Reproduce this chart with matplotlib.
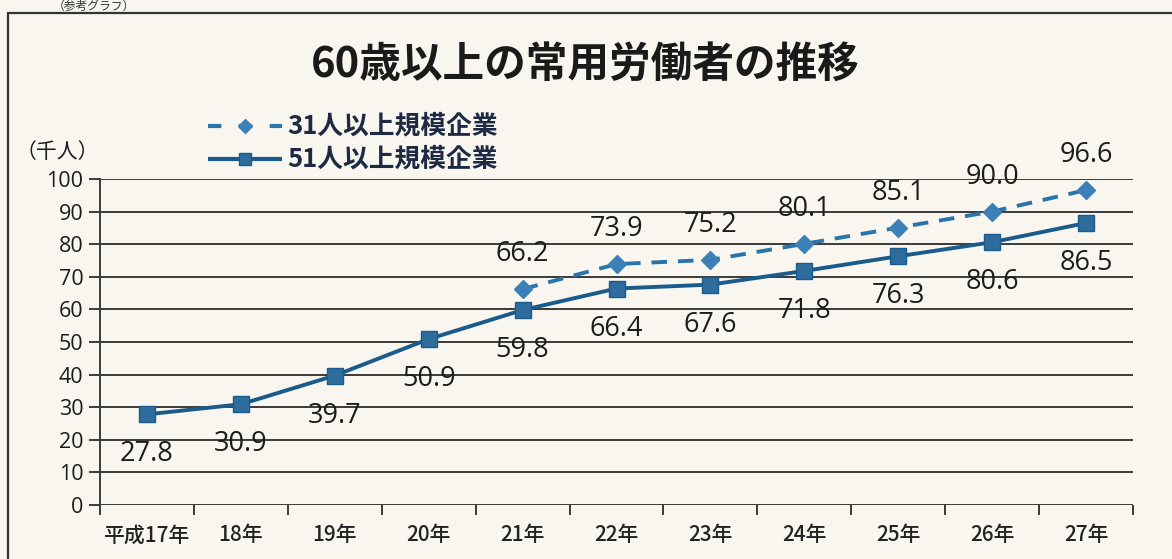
import matplotlib
matplotlib.use("Agg")
import matplotlib.pyplot as plt
from matplotlib.patches import Rectangle
from matplotlib.ticker import FixedLocator

plt.rcParams['font.family'] = ['Noto Sans CJK JP', 'DejaVu Sans']

categories = ['平成17年', '18年', '19年', '20年', '21年', '22年', '23年', '24年', '25年', '26年', '27年']
series51 = [27.8, 30.9, 39.7, 50.9, 59.8, 66.4, 67.6, 71.8, 76.3, 80.6, 86.5]
series31_idx = [4, 5, 6, 7, 8, 9, 10]
series31 = [66.2, 73.9, 75.2, 80.1, 85.1, 90.0, 96.6]
yticks = [0, 10, 20, 30, 40, 50, 60, 70, 80, 90, 100]

title = '60歳以上の常用労働者の推移'
legend31 = '31人以上規模企業'
legend51 = '51人以上規模企業'
unit = '（千人）'
note = '（参考グラフ）'

bg = '#f8f6ef'
fig = plt.figure(figsize=(11.72, 5.59), dpi=100, facecolor=bg)
W, H = 1172, 559

def ax_rect(x0, y0, x1, y1):
    return [x0 / W, 1 - y1 / H, (x1 - x0) / W, (y1 - y0) / H]

ax = fig.add_axes(ax_rect(100, 179, 1133, 505))
ax.set_facecolor(bg)

x = list(range(len(categories)))
ax.set_xlim(-0.5, len(categories) - 0.5)
ax.set_ylim(0, 100)

# grid
for yv in yticks:
    ax.axhline(yv, color='#3a3a3a', lw=1.4, zorder=1)

ax.plot(x, series51, color='#1b5b8c', lw=2.8, marker='s', markersize=11,
        markerfacecolor='#2d6c9c', markeredgecolor='#1b5b8c', zorder=3)
ax.plot(series31_idx, series31, color='#2a74aa', lw=2.8, ls=(0, (4, 2.8)),
        marker='D', markersize=9, markerfacecolor='#3b80b6',
        markeredgecolor='#3b80b6', zorder=3)

numfont = dict(family=['Open Sans', 'DejaVu Sans'], fontsize=19.5, color='#1c1c1c')
for xi, v in zip(x, series51):
    ax.annotate(f'{v:.1f}', (xi, v), xytext=(0, -40), textcoords='offset pixels',
                ha='center', va='center', **numfont)
for xi, v in zip(series31_idx, series31):
    ax.annotate(f'{v:.1f}', (xi, v), xytext=(0, 35), textcoords='offset pixels',
                ha='center', va='center', annotation_clip=False, **numfont)

for s in ['top', 'right', 'bottom']:
    ax.spines[s].set_visible(False)
ax.spines['left'].set_color('#3a3a3a')
ax.spines['left'].set_linewidth(1.4)

ax.set_yticks(yticks)
ax.set_yticklabels([str(v) for v in yticks], fontsize=15.5,
                   family=['Open Sans', 'DejaVu Sans'], color='#1c1c1c')
ax.tick_params(axis='y', length=8, width=1.4, color='#3a3a3a', pad=4)

ax.set_xticks(x)
ax.set_xticklabels(categories, fontsize=15, fontweight='medium', color='#222222')
ax.tick_params(axis='x', which='major', length=0, pad=14)
ax.xaxis.set_minor_locator(FixedLocator([i - 0.5 for i in range(len(categories) + 1)]))
ax.tick_params(axis='x', which='minor', length=7, width=1.4, color='#3a3a3a')

# outer frame
fig.patches.append(Rectangle((8 / W, -0.1), 1.2, 1 - 13 / H + 0.1,
                             transform=fig.transFigure, fill=False,
                             edgecolor='#333333', lw=1.6))

fig.text(0.045, 1 - 6 / H, note, fontsize=8.5, color='#333333',
         ha='left', va='center')

fig.text(585 / W, 1 - 65 / H, title, fontsize=30, fontweight='bold',
         color='#1a1a1a', ha='center', va='center')

fig.text(57 / W, 1 - 152 / H, unit, fontsize=15, color='#1c1c1c',
         ha='center', va='center')

# legend
lax = fig.add_axes(ax_rect(208, 112, 282, 172))
lax.set_xlim(0, 1)
lax.set_ylim(0, 1)
lax.axis('off')
lax.plot([0.0, 1.0], [0.77, 0.77], color='#2a74aa', lw=3, ls=(0, (3.2, 4.2)))
lax.plot([0.5], [0.77], marker='D', markersize=7, color='#3b80b6')
lax.plot([0.0, 1.0], [0.22, 0.22], color='#1b5b8c', lw=3)
lax.plot([0.5], [0.22], marker='s', markersize=9, markerfacecolor='#2d6c9c',
         markeredgecolor='#1b5b8c')
fig.text(287 / W, 1 - 126 / H, legend31, fontsize=18.5, fontweight='bold',
         color='#1e2a44', ha='left', va='center')
fig.text(287 / W, 1 - 159 / H, legend51, fontsize=18.5, fontweight='bold',
         color='#1e2a44', ha='left', va='center')

fig.savefig('out.png', dpi=100, facecolor=bg)
